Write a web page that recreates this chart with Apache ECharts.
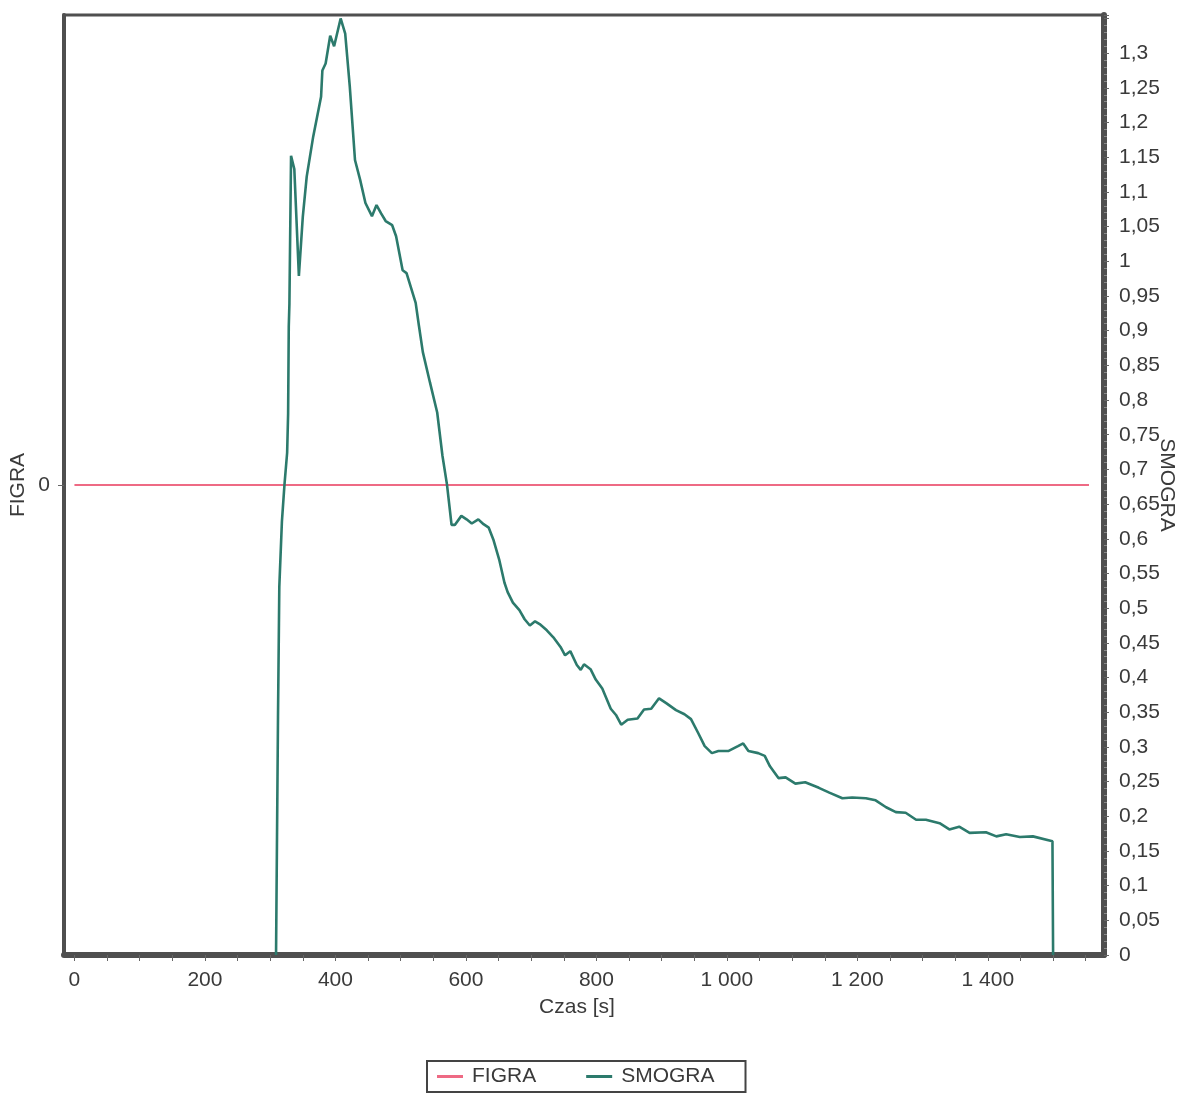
<!DOCTYPE html>
<html>
<head>
<meta charset="utf-8">
<script src="https://cdn.jsdelivr.net/npm/echarts@6/dist/echarts.min.js"></script>
<style>
  html, body { margin: 0; padding: 0; background: #ffffff; }
  #chart { width: 1189px; height: 1094px; }
</style>
</head>
<body>
<div id="chart"></div>
<script>
// ---- data ----
const seriesNames = ['FIGRA', 'SMOGRA'];

const figraTime  = [0, 1555];
const figraValue = [0, 0];

const smograTime = [309, 312, 314, 318, 322, 326, 327.5, 328.5, 329.5, 332, 337, 344, 350, 356, 366, 378, 380, 385, 392, 398,
  408, 415, 422, 430, 438, 446, 456, 463, 470, 477, 487, 493, 503, 509, 523, 528, 534, 545, 556, 564,
  571, 578, 583, 593, 601, 609, 619, 627, 635, 642, 651, 659, 664, 672, 682, 690, 698, 706, 713, 724,
  734, 745, 752, 760, 770, 776, 781, 791, 799, 809, 822, 830, 838, 848, 863, 873, 884, 896, 907, 922,
  935, 945, 956, 966, 977, 987, 1002, 1017, 1025, 1033, 1048, 1058, 1066, 1079, 1090, 1105, 1120, 1141, 1157, 1177,
  1192, 1213, 1228, 1244, 1259, 1274, 1290, 1305, 1326, 1341, 1356, 1372, 1397, 1413, 1428, 1449, 1469, 1499, 1500];
const smograValue = [0, 0.343, 0.531, 0.625, 0.679, 0.724, 0.780, 0.906, 0.939, 1.152, 1.133, 0.979, 1.064, 1.122, 1.180, 1.237, 1.275, 1.285, 1.325, 1.310,
  1.350, 1.328, 1.252, 1.146, 1.117, 1.084, 1.065, 1.081, 1.069, 1.058, 1.052, 1.036, 0.987, 0.983, 0.940, 0.907, 0.869, 0.825, 0.782, 0.720,
  0.678, 0.620, 0.620, 0.633, 0.628, 0.622, 0.628, 0.621, 0.616, 0.599, 0.570, 0.537, 0.523, 0.508, 0.497, 0.484, 0.475, 0.481, 0.477, 0.468,
  0.458, 0.444, 0.432, 0.438, 0.418, 0.411, 0.419, 0.412, 0.397, 0.384, 0.355, 0.346, 0.332, 0.339, 0.341, 0.354, 0.355, 0.370, 0.363, 0.353,
  0.347, 0.340, 0.320, 0.301, 0.291, 0.294, 0.294, 0.301, 0.305, 0.294, 0.291, 0.287, 0.272, 0.255, 0.256, 0.247, 0.249, 0.241, 0.234, 0.226,
  0.227, 0.226, 0.223, 0.213, 0.206, 0.205, 0.195, 0.195, 0.190, 0.181, 0.185, 0.176, 0.177, 0.171, 0.174, 0.170, 0.171, 0.164, 0];

const xLabelValues = [0, 200, 400, 600, 800, 1000, 1200, 1400];
const xTickValues  = [0, 50, 100, 150, 200, 250, 300, 350, 400, 450, 500, 550, 600, 650, 700, 750, 800, 850, 900, 950,
  1000, 1050, 1100, 1150, 1200, 1250, 1300, 1350, 1400, 1450, 1500, 1550];
const figraLabelValues = [0];
const smograLabelMax = 1.3;

// ---- chart ----
const axisColor = '#4f4f4f';
const textColor = '#3a3a3a';
const font = 'Liberation Sans, Arial, sans-serif';

const chart = echarts.init(document.getElementById('chart'), null, { renderer: 'canvas' });

const smograData = smograTime.map((t, i) => [t, smograValue[i]]);
const figraData = figraTime.map((t, i) => [t, figraValue[i]]);

chart.setOption({
  animation: false,
  backgroundColor: '#ffffff',
  textStyle: { fontFamily: font },
  grid: {
    left: 64, top: 15, width: 1040, height: 940,
    containLabel: false,
    outerBoundsMode: 'none',
    show: true, borderColor: axisColor, borderWidth: 3, backgroundColor: 'transparent'
  },
  legend: {
    data: seriesNames,
    left: 427, top: 1061,
    orient: 'horizontal',
    icon: 'rect',
    itemWidth: 26, itemHeight: 3,
    itemGap: 50,
    padding: [5, 31, 5, 10],
    borderColor: '#444', borderWidth: 2,
    textStyle: { fontSize: 21, color: textColor, fontFamily: font, padding: [0, 0, 0, 4] }
  },
  xAxis: {
    type: 'value',
    min: -16, max: 1578,
    name: 'Czas [s]',
    nameLocation: 'middle',
    nameGap: 42,
    nameTextStyle: { fontSize: 21, color: textColor, fontFamily: font, padding: [0, 14, 0, 0] },
    axisLine: { show: true, onZero: false, lineStyle: { color: axisColor, width: 6 } },
    axisTick: { show: true, customValues: xTickValues, length: 6, lineStyle: { color: '#666', width: 1 } },
    axisLabel: {
      customValues: xLabelValues,
      fontSize: 21, color: textColor, fontFamily: font, margin: 15,
      formatter: v => v >= 1000 ? String(v).replace(/(\d)(\d{3})$/, '$1 $2') : String(v)
    },
    splitLine: { show: false }
  },
  yAxis: [
    {
      type: 'value',
      position: 'left',
      min: -1, max: 1,
      name: 'FIGRA',
      nameLocation: 'middle',
      nameGap: 35,
      nameRotate: 90,
      nameMoveOverlap: false,
      nameTextStyle: { fontSize: 21, color: textColor, fontFamily: font },
      axisLine: { show: true, onZero: false, lineStyle: { color: axisColor, width: 4 } },
      axisTick: { show: true, customValues: figraLabelValues, length: 6, lineStyle: { color: '#666' } },
      axisLabel: { customValues: figraLabelValues, fontSize: 21, color: textColor, fontFamily: font, margin: 14 },
      splitLine: { show: false }
    },
    {
      type: 'value',
      position: 'right',
      min: 0, max: 1.355, interval: 0.05,
      name: 'SMOGRA',
      nameLocation: 'middle',
      nameGap: 52,
      nameRotate: -90,
      nameMoveOverlap: false,
      nameTextStyle: { fontSize: 21, color: textColor, fontFamily: font },
      axisLine: { show: true, onZero: false, lineStyle: { color: axisColor, width: 6 } },
      axisTick: { show: true, length: 5, lineStyle: { color: '#666' } },
      minorTick: { show: true, splitNumber: 5, length: 3, lineStyle: { color: '#888' } },
      axisLabel: {
        fontSize: 21, color: textColor, fontFamily: font, margin: 15,
        formatter: v => v > smograLabelMax + 0.001 ? '' : String(Math.round(v * 100) / 100).replace('.', ',')
      },
      splitLine: { show: false }
    }
  ],
  series: [
    {
      name: 'FIGRA', type: 'line', yAxisIndex: 0, data: figraData,
      symbol: 'none', lineStyle: { color: '#ee6a84', width: 2 }, itemStyle: { color: '#ee6a84' }, z: 3
    },
    {
      name: 'SMOGRA', type: 'line', yAxisIndex: 1, data: smograData,
      symbol: 'none', lineStyle: { color: '#2c7a6c', width: 2.6 }, itemStyle: { color: '#2c7a6c' }, z: 4
    }
  ]
});
</script>
</body>
</html>
